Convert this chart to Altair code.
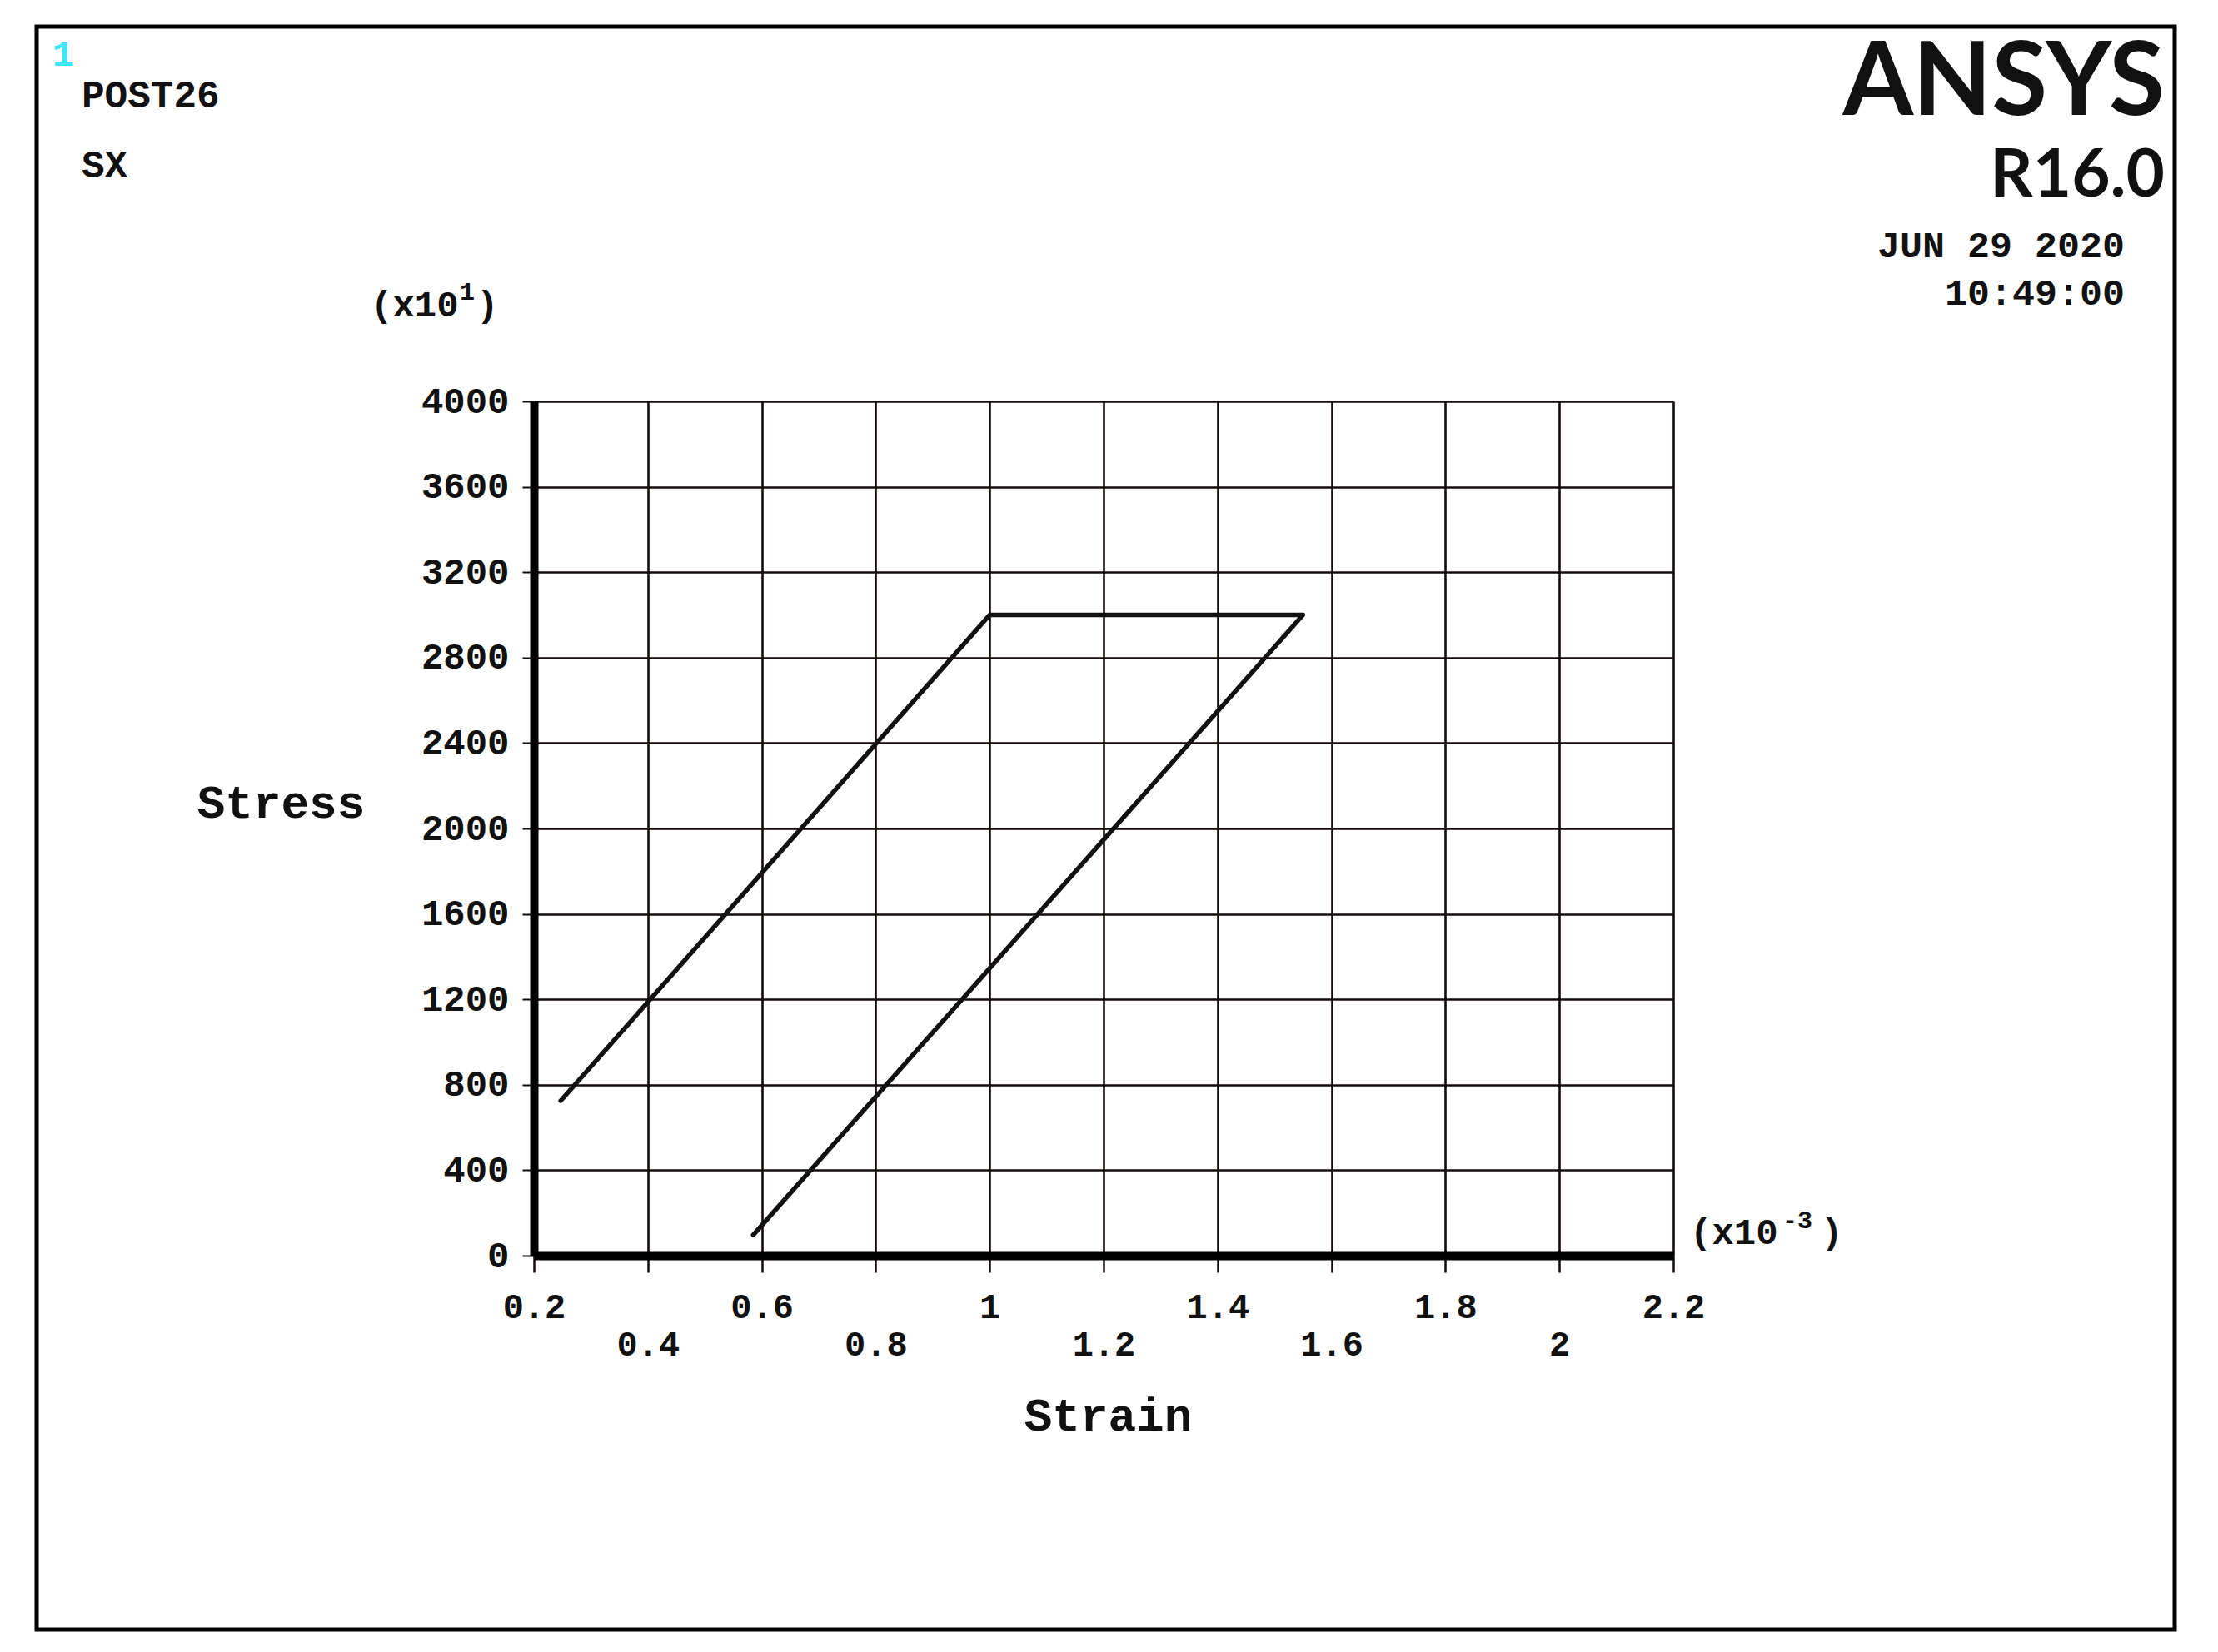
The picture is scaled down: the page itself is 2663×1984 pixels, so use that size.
import altair as alt
import pandas as pd

# ---- data ----
strain = [0.247, 1.0, 1.55, 0.585]          # x10^-3
stress = [725, 3000, 3000, 97]              # x10^1
step = [0, 1, 2, 3]

x_ticks = [0.2, 0.4, 0.6, 0.8, 1.0, 1.2, 1.4, 1.6, 1.8, 2.0, 2.2]
y_ticks = [0, 400, 800, 1200, 1600, 2000, 2400, 2800, 3200, 3600, 4000]

W, H = 1368, 1026
OX, OY = 641, 482  # plot origin in page pixels
MONO = "Liberation Mono"
INK = "#111111"
GRID = "#150b0b"

df = pd.DataFrame({"strain": strain, "stress": stress, "step": step})

line = alt.Chart(df).mark_line(color=INK, strokeWidth=5.5, strokeJoin="round", strokeCap="round").encode(
    x=alt.X("strain:Q",
            scale=alt.Scale(domain=[0.2, 2.2], nice=False, zero=False),
            axis=alt.Axis(values=x_ticks, format="~g", grid=True, gridColor=GRID, gridWidth=2.6,
                          domainColor="black", domainWidth=10,
                          ticks=True, tickSize=20, tickWidth=2.5, tickColor=GRID,
                          labelFont=MONO, labelFontSize=42, labelFontWeight="bold", labelColor=INK,
                          labelPadding={"condition": {"test": "round(datum.value*10) % 4 == 0", "value": 66}, "value": 21},
                          labelFlush=False, labelOverlap=False,
                          title="Strain", titleFont=MONO, titleFontSize=56, titleFontWeight="bold",
                          titleColor=INK, titleX=W / 2 + 5, titleY=192, titleBaseline="middle",
                          titleAlign="center")),
    y=alt.Y("stress:Q",
            scale=alt.Scale(domain=[0, 4000], nice=False),
            axis=alt.Axis(values=y_ticks, format="d", grid=True, gridColor=GRID, gridWidth=2.6,
                          domainColor="black", domainWidth=10,
                          ticks=True, tickSize=14, tickWidth=2, tickColor=GRID,
                          labelFont=MONO, labelFontSize=44, labelFontWeight="bold", labelColor=INK,
                          labelPadding=16, labelFlush=False, labelOverlap=False,
                          title="Stress", titleFont=MONO, titleFontSize=56, titleFontWeight="bold",
                          titleColor=INK, titleAngle=0, titleX=337 - OX, titleY=964 - OY,
                          titleAlign="center", titleBaseline="middle")),
    order="step:O",
)

frame = alt.Chart(pd.DataFrame({"a": [0]})).mark_rect(
    filled=False, stroke="black", strokeWidth=5
).encode(
    x=alt.value(44 - OX), x2=alt.value(2611 - OX),
    y=alt.value(32 - OY), y2=alt.value(1957 - OY),
)


def label(text, px, py, size, align="left", color=INK, font=MONO, weight="bold"):
    return alt.Chart(pd.DataFrame({"t": [text]})).mark_text(
        font=font, fontSize=size, fontWeight=weight, color=color, align=align, baseline="middle"
    ).encode(text="t:N", x=alt.value(px - OX), y=alt.value(py - OY))


texts = [
    label("1", 76, 66, 44, align="center", color="#3ee6f2"),
    label("POST26", 98, 115, 46),
    label("SX", 98, 199, 46),
    # y multiplier (x10^1)
    label("(x10", 445, 367, 44),
    label("1", 561, 351, 30, align="center"),
    label(")", 572, 367, 44),
    label("ANSYS", 2599, 101, 122, align="right", font="Lato"),
    label("R16.0", 2599, 212, 80, align="right", font="Lato"),
    label("JUN 29 2020", 2551, 295, 45, align="right"),
    label("10:49:00", 2551, 352, 45, align="right"),
    # x multiplier (x10^-3)
    label("(x10", 2029, 1481, 44),
    label("-3", 2158, 1466, 30, align="center"),
    label(")", 2186, 1481, 44),
]

chart = alt.layer(frame, line, *texts).properties(
    width=W, height=H,
    padding={"left": OX - 8, "top": OY - 8, "right": 2647 - (OX - 8) - W, "bottom": 1968 - (OY - 8) - H},
    autosize=alt.AutoSizeParams(type="none"),
    background="white",
).configure_view(stroke="transparent")

chart.save("out.html", embed_options={"renderer": "svg", "actions": False})
